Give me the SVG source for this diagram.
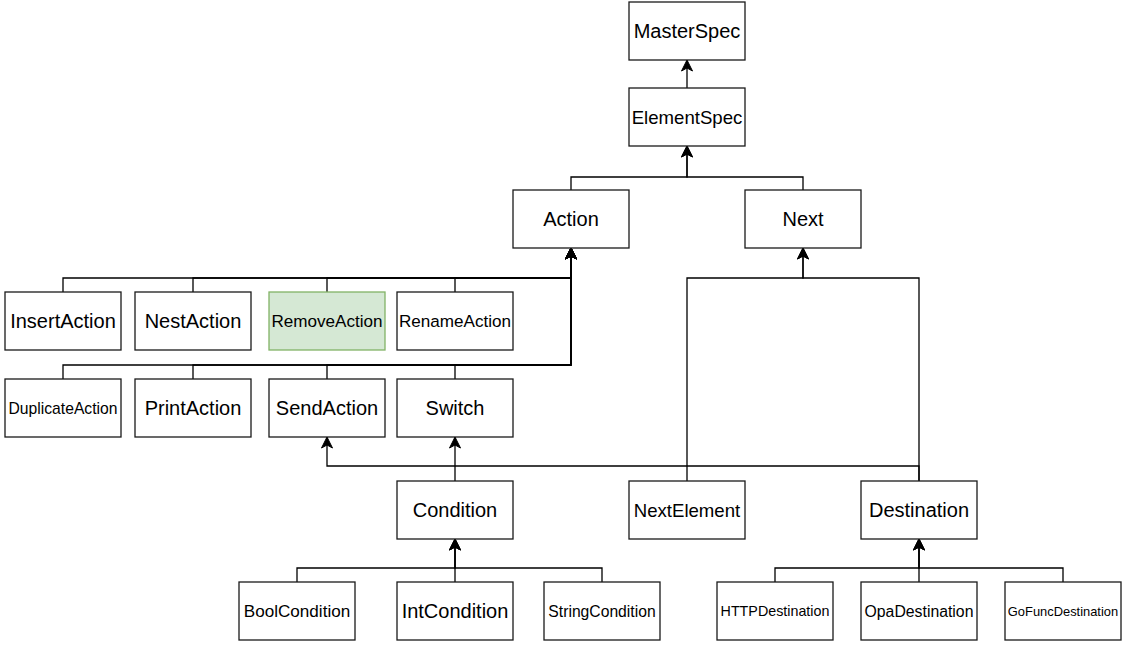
<svg xmlns="http://www.w3.org/2000/svg" width="1125" height="645" viewBox="0 0 1125 645">
  <defs>
    <marker id="arrow" markerUnits="userSpaceOnUse" viewBox="-1 -7 14 14" markerWidth="14" markerHeight="14" refX="11" refY="0" orient="auto">
      <path d="M11,0 L0,-5.5 L3,0 L0,5.5 Z" fill="#000" stroke="#000" stroke-width="1" stroke-linejoin="miter"/>
    </marker>
  </defs>
  <style>
    .box { fill: #ffffff; stroke: #1a1a1a; stroke-width: 1.3; }
    .green { fill: #d5e8d4; stroke: #82b366; }
    .lbl { font-family: "Liberation Sans", Arial, sans-serif; fill: #000; text-anchor: middle; dominant-baseline: central; font-size: 20px; }
    .edge { fill: none; stroke: #000; stroke-width: 1.3; }
    .arr { marker-end: url(#arrow); }
  </style>
  <rect width="1125" height="645" fill="#ffffff"/>

  <!-- connectors (one path per inheritance edge, routed orthogonally) -->
  <g id="connectors">
    <path class="edge arr" d="M687,88 V60"/>
    <path class="edge arr" d="M571,190 V177 H687 V146"/>
    <path class="edge arr" d="M803,190 V177 H687 V146"/>

    <path class="edge arr" d="M63,292 V278 H571 V248"/>
    <path class="edge arr" d="M193,292 V278 H571 V248"/>
    <path class="edge arr" d="M327,292 V278 H571 V248"/>
    <path class="edge arr" d="M455,292 V278 H571 V248"/>

    <path class="edge arr" d="M63,379 V365 H571 V248"/>
    <path class="edge arr" d="M193,379 V365 H571 V248"/>
    <path class="edge arr" d="M327,379 V365 H571 V248"/>
    <path class="edge arr" d="M455,379 V365 H571 V248"/>

    <path class="edge arr" d="M687,481 V278 H803 V248"/>
    <path class="edge arr" d="M919,481 V278 H803 V248"/>
    <path class="edge arr" d="M919,481 V466 H327 V437"/>
    <path class="edge arr" d="M455,481 V437"/>

    <path class="edge arr" d="M297,582 V568 H455 V539"/>
    <path class="edge arr" d="M455,582 V539"/>
    <path class="edge arr" d="M602,582 V568 H455 V539"/>

    <path class="edge arr" d="M775,582 V568 H919 V539"/>
    <path class="edge arr" d="M919,582 V539"/>
    <path class="edge arr" d="M1063,582 V568 H919 V539"/>
  </g>

  <g id="MasterSpec"><rect class="box" x="629" y="2" width="116" height="58"/><text class="lbl" x="687" y="31">MasterSpec</text></g>
  <g id="ElementSpec"><rect class="box" x="629" y="88" width="116" height="58"/><text class="lbl" x="687" y="117" style="font-size:18.6px">ElementSpec</text></g>
  <g id="Action"><rect class="box" x="513" y="190" width="116" height="58"/><text class="lbl" x="571" y="219">Action</text></g>
  <g id="Next"><rect class="box" x="745" y="190" width="116" height="58"/><text class="lbl" x="803" y="219">Next</text></g>

  <g id="InsertAction"><rect class="box" x="5" y="292" width="116" height="58"/><text class="lbl" x="63" y="321">InsertAction</text></g>
  <g id="NestAction"><rect class="box" x="135" y="292" width="116" height="58"/><text class="lbl" x="193" y="321">NestAction</text></g>
  <g id="RemoveAction"><rect class="box green" x="269" y="292" width="116" height="58"/><text class="lbl" x="327" y="321" style="font-size:17.1px">RemoveAction</text></g>
  <g id="RenameAction"><rect class="box" x="397" y="292" width="116" height="58"/><text class="lbl" x="455" y="321" style="font-size:17.1px">RenameAction</text></g>

  <g id="DuplicateAction"><rect class="box" x="5" y="379" width="116" height="58"/><text class="lbl" x="63" y="408" style="font-size:15.7px">DuplicateAction</text></g>
  <g id="PrintAction"><rect class="box" x="135" y="379" width="116" height="58"/><text class="lbl" x="193" y="408">PrintAction</text></g>
  <g id="SendAction"><rect class="box" x="269" y="379" width="116" height="58"/><text class="lbl" x="327" y="408">SendAction</text></g>
  <g id="Switch"><rect class="box" x="397" y="379" width="116" height="58"/><text class="lbl" x="455" y="408">Switch</text></g>

  <g id="Condition"><rect class="box" x="397" y="481" width="116" height="58"/><text class="lbl" x="455" y="510">Condition</text></g>
  <g id="NextElement"><rect class="box" x="629" y="481" width="116" height="58"/><text class="lbl" x="687" y="510" style="font-size:18.6px">NextElement</text></g>
  <g id="Destination"><rect class="box" x="861" y="481" width="116" height="58"/><text class="lbl" x="919" y="510">Destination</text></g>

  <g id="BoolCondition"><rect class="box" x="239" y="582" width="116" height="58"/><text class="lbl" x="297" y="611" style="font-size:17.1px">BoolCondition</text></g>
  <g id="IntCondition"><rect class="box" x="397" y="582" width="116" height="58"/><text class="lbl" x="455" y="611">IntCondition</text></g>
  <g id="StringCondition"><rect class="box" x="544" y="582" width="116" height="58"/><text class="lbl" x="602" y="611" style="font-size:15.7px">StringCondition</text></g>

  <g id="HTTPDestination"><rect class="box" x="717" y="582" width="116" height="58"/><text class="lbl" x="775" y="611" style="font-size:14.3px">HTTPDestination</text></g>
  <g id="OpaDestination"><rect class="box" x="861" y="582" width="116" height="58"/><text class="lbl" x="919" y="611" style="font-size:15.8px">OpaDestination</text></g>
  <g id="GoFuncDestination"><rect class="box" x="1005" y="582" width="116" height="58"/><text class="lbl" x="1063" y="611" style="font-size:12.9px">GoFuncDestination</text></g>
</svg>
